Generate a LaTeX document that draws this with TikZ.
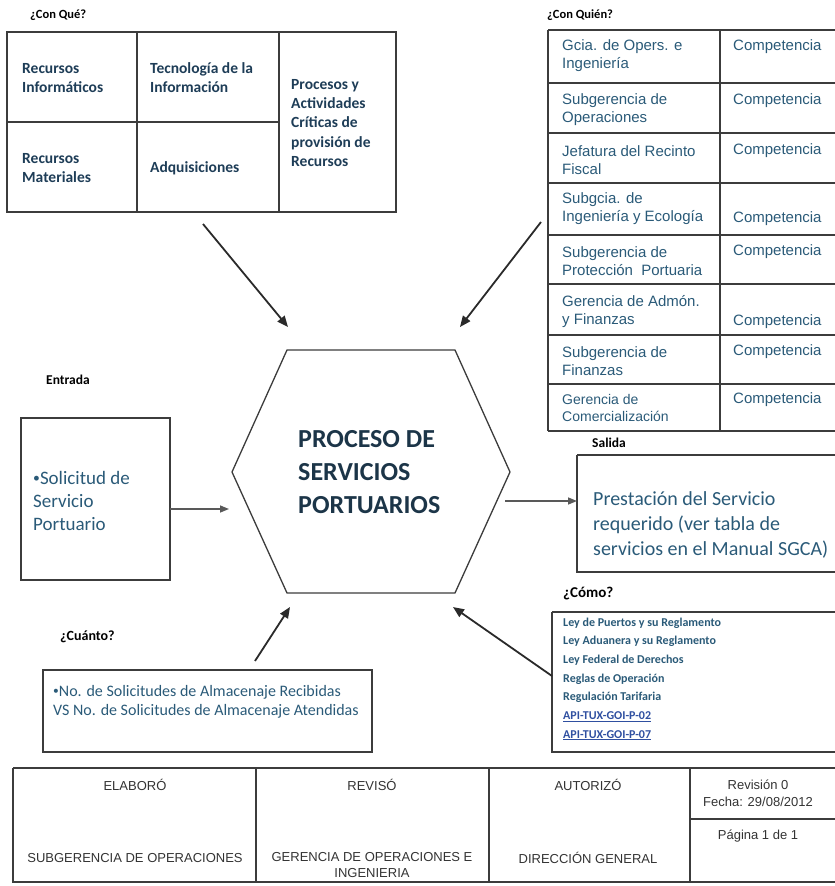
\documentclass[tikz,border=0pt]{standalone}
\usepackage{fontspec}
\setmainfont{Carlito}
\newfontfamily\arialf{Liberation Sans}
\usetikzlibrary{arrows.meta}
\definecolor{navy}{HTML}{1E3D57}
\definecolor{txtteal}{HTML}{2A5A78}
\definecolor{hexnavy}{HTML}{1C3548}
\definecolor{linkblue}{HTML}{2F4FA0}
\definecolor{linegray}{HTML}{3C3C3C}
\definecolor{arrowgray}{HTML}{2A2A2A}
\definecolor{foottxt}{HTML}{333333}
\newcommand{\smbul}{\raisebox{0.12em}{\scalebox{0.72}{•}}}
\begin{document}
\begin{tikzpicture}[x=1pt,y=-1pt,
  box/.style={draw=linegray, line width=1.2pt},
  fbox/.style={draw=linegray, line width=1.7pt},
  lbl/.style={anchor=west, inner sep=0, text=black, font=\bfseries\fontsize{12.5}{15}\selectfont},
  qtxt/.style={anchor=west, inner sep=0, align=left, text=navy, font=\bfseries\fontsize{15.5}{19.2}\selectfont},
  rtxt/.style={anchor=west, inner sep=0, align=left, text=txtteal, font=\arialf\fontsize{15}{18}\selectfont},
  rtxts/.style={anchor=west, inner sep=0, align=left, text=txtteal, font=\arialf\fontsize{14}{17}\selectfont},
  btxt/.style={anchor=west, inner sep=0, align=left, text=txtteal},
  ctxt/.style={anchor=west, inner sep=0, align=left, text=txtteal, font=\bfseries\fontsize{12}{18.67}\selectfont},
  ftxt/.style={anchor=center, inner sep=0, align=center, text=foottxt, font=\arialf\fontsize{13}{15.5}\selectfont},
  arr/.style={draw=arrowgray, line width=1.8pt, -{Triangle[length=11pt,width=9pt]}},
  garr/.style={draw=linegray!85, line width=1.5pt, -{Triangle[length=9pt,width=7pt]}},
  hexline/.style={draw=linegray, line width=1.3pt}
]
\useasboundingbox (0,0) rectangle (835,886);

% ---------- ¿Con Qué? ----------
\node[lbl] (lconque) at (30,15) {¿Con Qué?};
\draw[box] (7,32) rectangle (396,212);
\draw[box] (137,32) -- (137,212);
\draw[box] (279,32) -- (279,212);
\draw[box] (7,122) -- (279,122);
\node[qtxt] (q1) at (22,78) {Recursos\\Informáticos};
\node[qtxt] (q2) at (150,78) {Tecnología de la\\Información};
\node[qtxt] (q3) at (22,168) {Recursos\\Materiales};
\node[qtxt] (q4) at (150,168) {Adquisiciones};
\node[qtxt] (q5) at (291,123) {Procesos y\\Actividades\\Críticas de\\provisión de\\Recursos};

% ---------- ¿Con Quién? ----------
\node[lbl] (lconquien) at (547,15) {¿Con Quién?};
\foreach \yy in {30,83,133,183,235,284,335,384,431}
  \draw[box] (548,\yy) -- (836,\yy);
\draw[box] (548,30) -- (548,431);
\draw[box] (720,30) -- (720,431);
\node[rtxt] (r1) at (562,56) {Gcia. de Opers. e\\Ingeniería};
\node[rtxt] (c1) at (733,47) {Competencia};
\node[rtxt] (r2) at (562,110) {Subgerencia de\\Operaciones};
\node[rtxt] (c2) at (733,101) {Competencia};
\node[rtxt] (r3) at (562,160) {Jefatura del Recinto\\Fiscal};
\node[rtxt] (c3) at (733,151) {Competencia};
\node[rtxt] (r4) at (562,209) {Subgcia. de\\Ingeniería y Ecología};
\node[rtxt] (c4) at (733,219) {Competencia};
\node[rtxt] (r5) at (562,261) {Subgerencia de\\Protección\ \ Portuaria};
\node[rtxt] (c5) at (733,252) {Competencia};
\node[rtxt] (r6) at (562,312) {Gerencia de Admón.\\y Finanzas};
\node[rtxt] (c6) at (733,322) {Competencia};
\node[rtxt] (r7) at (562,361) {Subgerencia de\\Finanzas};
\node[rtxt] (c7) at (733,352) {Competencia};
\node[rtxts] (r8) at (562,408) {Gerencia de\\Comercialización};
\node[rtxt] (c8) at (733,400) {Competencia};

% ---------- Hexagon ----------
\coordinate (h1) at (232,472);
\coordinate (h2) at (287,350);
\coordinate (h3) at (455,350);
\coordinate (h4) at (510,472);
\coordinate (h5) at (455,593);
\coordinate (h6) at (287,593);
\draw[hexline] (h1) -- (h2) -- (h3) -- (h4) -- (h5) -- (h6) -- cycle;
\node[anchor=west, inner sep=0, align=left, text=hexnavy,
      font=\bfseries\fontsize{26}{33}\selectfont] (proc) at (298,472)
      {PROCESO DE\\SERVICIOS\\PORTUARIOS};

% ---------- Entrada ----------
\node[lbl, font=\bfseries\fontsize{13.5}{16}\selectfont] (lentrada) at (46,380) {Entrada};
\draw[box] (21,418) rectangle (170,580);
\node[btxt, font=\fontsize{19}{23}\selectfont] (entrada) at (33,501) {\smbul Solicitud de\\Servicio\\Portuario};

% ---------- Salida ----------
\node[lbl, font=\bfseries\fontsize{13.5}{16}\selectfont] (lsalida) at (592,443) {Salida};
\draw[box] (577,455) -- (836,455);
\draw[box] (577,455) -- (577,572) -- (836,572);
\node[btxt, font=\fontsize{20}{25}\selectfont] (salida) at (593,525)
  {Prestación del Servicio\\requerido (ver tabla de\\servicios en el Manual SGCA)};

% ---------- ¿Cuánto? ----------
\node[lbl, font=\bfseries\fontsize{14}{16}\selectfont] (lcuanto) at (60,637) {¿Cuánto?};
\draw[box] (43,670) rectangle (372,752);
\node[btxt, font=\fontsize{16}{19}\selectfont] (cuanto) at (53,702)
  {\smbul No. de Solicitudes de Almacenaje Recibidas\\VS No. de Solicitudes de Almacenaje Atendidas};

% ---------- ¿Cómo? ----------
\node[lbl, font=\bfseries\fontsize{15}{17}\selectfont] (lcomo) at (563,594) {¿Cómo?};
\draw[box] (552,612) -- (836,612);
\draw[box] (552,612) -- (552,752) -- (836,752);
\node[ctxt] (como) at (563,679)
  {Ley de Puertos y su Reglamento\\
   Ley Aduanera y su Reglamento\\
   Ley Federal de Derechos\\
   Reglas de Operación\\
   Regulación Tarifaria\\
   \textcolor{linkblue}{\underline{API-TUX-GOI-P-02}}\\
   \textcolor{linkblue}{\underline{API-TUX-GOI-P-07}}};

% ---------- Arrows ----------
\coordinate (a1s) at (203,224);
\coordinate (a1e) at (288,327);
\coordinate (a2s) at (541,222);
\coordinate (a2e) at (460,327);
\coordinate (a3s) at (255,661);
\coordinate (a3e) at (290,607);
\coordinate (a4s) at (552,676);
\coordinate (a4e) at (453,607);
\coordinate (a5s) at (170,509);
\coordinate (a5e) at (229,509);
\coordinate (a6s) at (505,501);
\coordinate (a6e) at (577,501);
\draw[arr] (a1s) -- (a1e);
\draw[arr] (a2s) -- (a2e);
\draw[arr] (a3s) -- (a3e);
\draw[arr] (a4s) -- (a4e);
\draw[garr] (a5s) -- (a5e);
\draw[garr] (a6s) -- (a6e);

% ---------- Footer ----------
\draw[fbox] (13,768) -- (836,768);
\draw[fbox] (13,768) -- (13,882) -- (836,882);
\draw[box] (256,768) -- (256,882);
\draw[box] (489,768) -- (489,882);
\draw[box] (690,768) -- (690,882);
\draw[box] (690,819) -- (836,819);
\node[ftxt] (f1) at (135,785) {ELABORÓ};
\node[ftxt] (f2) at (372,785) {REVISÓ};
\node[ftxt] (f3) at (588,785) {AUTORIZÓ};
\node[ftxt] (f4) at (758,785) {Revisión 0};
\node[ftxt] (f5) at (758,802) {Fecha: 29/08/2012};
\node[ftxt] (f6) at (758,836) {Página 1 de 1};
\node[ftxt] (f7) at (135,858) {SUBGERENCIA DE OPERACIONES};
\node[ftxt] (f8) at (372,865) {GERENCIA DE OPERACIONES E\\INGENIERIA};
\node[ftxt] (f9) at (588,858) {DIRECCIÓN GENERAL};
\end{tikzpicture}
\end{document}
